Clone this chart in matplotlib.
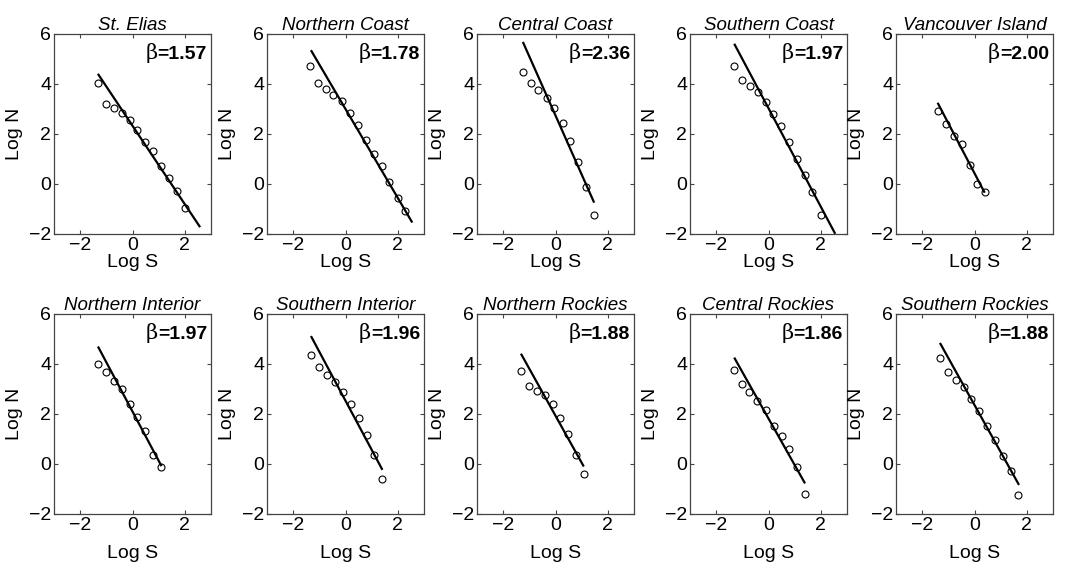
import matplotlib
matplotlib.use('Agg')
import matplotlib.pyplot as plt
import numpy as np

plt.rcParams['font.family'] = ['Liberation Sans', 'DejaVu Sans']

# Region names and fitted exponents
regions = ['St. Elias', 'Northern Coast', 'Central Coast', 'Southern Coast', 'Vancouver Island',
           'Northern Interior', 'Southern Interior', 'Northern Rockies', 'Central Rockies',
           'Southern Rockies']
betas = [1.57, 1.78, 2.36, 1.97, 2.00, 1.97, 1.96, 1.88, 1.86, 1.88]
# fit line intercept (Log N at Log S = 0) and x-range of the drawn fit
intercepts = [2.33, 3.00, 2.74, 3.03, 0.43, 2.10, 2.53, 1.93, 1.82, 2.36]
fit_start = [-1.30, -1.30, -1.23, -1.29, -1.39, -1.30, -1.30, -1.30, -1.29, -1.30]
fit_end = [2.56, 2.53, 1.46, 2.53, 0.37, 1.09, 1.39, 1.06, 1.375, 1.68]

# Binned data (Log S, Log N)
st_elias_s = [-1.33, -1.01, -0.71, -0.41, -0.11, 0.19, 0.49, 0.80, 1.10, 1.41, 1.71, 1.99]
st_elias_n = [4.04, 3.21, 3.04, 2.84, 2.57, 2.17, 1.68, 1.31, 0.71, 0.24, -0.27, -0.96]

n_coast_s = [-1.35, -1.05, -0.75, -0.46, -0.14, 0.16, 0.47, 0.77, 1.08, 1.38, 1.68, 1.99, 2.28]
n_coast_n = [4.71, 4.03, 3.80, 3.57, 3.31, 2.84, 2.37, 1.77, 1.21, 0.71, 0.07, -0.56, -1.09]

c_coast_s = [-1.24, -0.94, -0.65, -0.34, -0.04, 0.27, 0.57, 0.86, 1.15, 1.46]
c_coast_n = [4.48, 4.03, 3.77, 3.44, 3.03, 2.44, 1.71, 0.88, -0.13, -1.23]

s_coast_s = [-1.32, -1.01, -0.71, -0.42, -0.11, 0.19, 0.49, 0.80, 1.10, 1.41, 1.68, 1.99]
s_coast_n = [4.73, 4.16, 3.93, 3.68, 3.29, 2.81, 2.33, 1.67, 0.99, 0.36, -0.33, -1.23]

vanc_s = [-1.39, -1.10, -0.80, -0.48, -0.19, 0.11, 0.42]
vanc_n = [2.92, 2.41, 1.91, 1.61, 0.77, 0.01, -0.31]

n_int_s = [-1.33, -1.01, -0.72, -0.41, -0.10, 0.19, 0.49, 0.78, 1.09]
n_int_n = [4.00, 3.67, 3.32, 3.00, 2.41, 1.88, 1.31, 0.37, -0.13]

s_int_s = [-1.32, -1.01, -0.72, -0.42, -0.11, 0.20, 0.51, 0.81, 1.10, 1.39]
s_int_n = [4.37, 3.88, 3.55, 3.29, 2.88, 2.39, 1.83, 1.17, 0.36, -0.59]

n_rock_s = [-1.33, -1.03, -0.72, -0.42, -0.11, 0.19, 0.49, 0.78, 1.08]
n_rock_n = [3.72, 3.12, 2.91, 2.76, 2.39, 1.84, 1.21, 0.35, -0.41]

c_rock_s = [-1.31, -1.01, -0.73, -0.43, -0.10, 0.20, 0.50, 0.79, 1.08, 1.38]
c_rock_n = [3.76, 3.21, 2.88, 2.53, 2.17, 1.54, 1.14, 0.62, -0.12, -1.18]

s_rock_s = [-1.33, -1.03, -0.72, -0.42, -0.13, 0.19, 0.49, 0.80, 1.09, 1.38, 1.68]
s_rock_n = [4.23, 3.68, 3.36, 3.08, 2.61, 2.11, 1.51, 0.95, 0.33, -0.29, -1.23]

log_s = [st_elias_s, n_coast_s, c_coast_s, s_coast_s, vanc_s,
         n_int_s, s_int_s, n_rock_s, c_rock_s, s_rock_s]
log_n = [st_elias_n, n_coast_n, c_coast_n, s_coast_n, vanc_n,
         n_int_n, s_int_n, n_rock_n, c_rock_n, s_rock_n]

W, H = 1067, 567
fig = plt.figure(figsize=(W / 100, H / 100), dpi=100)

lefts = [54, 267, 477, 690, 896]
tops = [34, 314]
ax_w, ax_h = 157, 200

for i, name in enumerate(regions):
    row, col = divmod(i, 5)
    ax = fig.add_axes([lefts[col] / W, 1 - (tops[row] + ax_h) / H, ax_w / W, ax_h / H])

    ax.plot(log_s[i], log_n[i], 'o', mfc='none', mec='black', ms=5, mew=0.8)
    xs = np.array([fit_start[i], fit_end[i]])
    ax.plot(xs, intercepts[i] - betas[i] * xs, 'k-', lw=1.6)

    ax.set_xlim(-3, 3)
    ax.set_ylim(-2, 6)
    ax.set_xticks([-2, 0, 2])
    ax.set_yticks([-2, 0, 2, 4, 6])
    ax.tick_params(direction='in', top=True, right=True, labelsize=14,
                   length=3, color='#444444', pad=2)
    for sp in ax.spines.values():
        sp.set_color('#444444')
        sp.set_linewidth(0.9)

    ax.set_title(name, fontsize=13.5, style='italic', pad=3)
    ax.set_ylabel('Log N', fontsize=14)
    ax.yaxis.set_label_coords(-0.2, 0.5)
    ax.set_xlabel('Log S', fontsize=14)
    if row == 0:
        ax.xaxis.set_label_coords(0.5, -0.1)
    else:
        ax.xaxis.set_label_coords(0.5, -0.155)

    # bold "=value" with a plain beta in front of it
    t = ax.text(0.975, 0.94, '=%.2f' % betas[i], transform=ax.transAxes,
                ha='right', va='top', fontsize=14, fontweight='bold')
    ax.annotate('\u03b2', xy=(0, 0), xycoords=t, ha='right', va='bottom',
                fontsize=15, family=['DejaVu Serif'])

fig.savefig('out.png', dpi=100)
